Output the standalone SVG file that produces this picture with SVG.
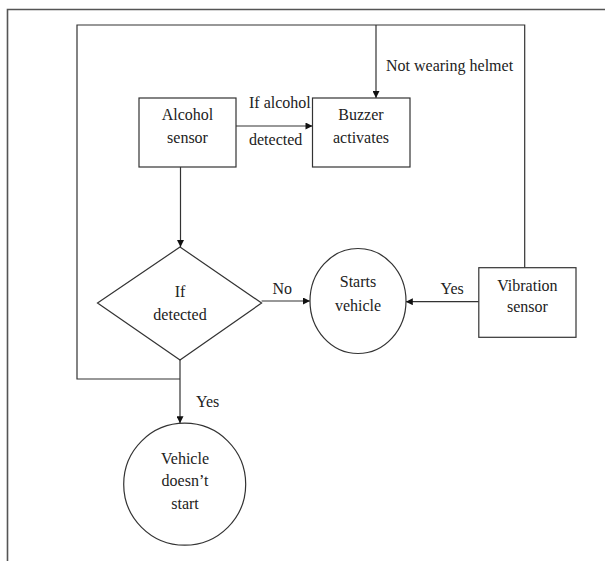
<svg xmlns="http://www.w3.org/2000/svg" width="605" height="561" viewBox="0 0 605 561">
<style>
.box{fill:#fff;stroke:#333;stroke-width:1.2}
.ln{fill:none;stroke:#333;stroke-width:1.2}
.t{font-family:"Liberation Serif","Times New Roman",serif;font-size:16px;fill:#222}
.c{text-anchor:middle}
</style>
<defs>
<marker id="ah" viewBox="0 0 10 10" refX="10" refY="5" markerWidth="8" markerHeight="7" markerUnits="userSpaceOnUse" orient="auto">
<path d="M0,0 L10,5 L0,10 Z" fill="#111"/>
</marker>
</defs>
<rect x="0" y="0" width="605" height="561" fill="#fff"/>
<path d="M7.5,561 V9.5 H605" fill="none" stroke="#555" stroke-width="1.6"/>
<g id="connectors">
<path class="ln" d="M180,379 H77 V25 H524.7 V267.7"/>
<path class="ln" d="M376,25 V98" marker-end="url(#ah)"/>
<path class="ln" d="M236,126 H312.5" marker-end="url(#ah)"/>
<path class="ln" d="M180.5,167 V247" marker-end="url(#ah)"/>
<path class="ln" d="M261.6,301 H310" marker-end="url(#ah)"/>
<path class="ln" d="M478.8,301.7 H405.8" marker-end="url(#ah)"/>
<path class="ln" d="M180,360 V423.3" marker-end="url(#ah)"/>
<text class="t" x="249" y="108">If alcohol</text>
<text class="t" x="249" y="145">detected</text>
<text class="t" x="386" y="71">Not wearing helmet</text>
<text class="t" x="272.5" y="294">No</text>
<text class="t" x="440.5" y="294.3">Yes</text>
<text class="t" x="196" y="407.3">Yes</text>
</g>
<g id="alcohol-sensor">
<rect class="box" x="139" y="98" width="97" height="69"/>
<text class="t c" x="187.5" y="120">Alcohol</text>
<text class="t c" x="187.5" y="142.7">sensor</text>
</g>
<g id="buzzer">
<rect class="box" x="312.5" y="98" width="97.5" height="69"/>
<text class="t c" x="361" y="120">Buzzer</text>
<text class="t c" x="361" y="142.7">activates</text>
</g>
<g id="if-detected">
<polygon class="box" points="180,247 261.6,303 180,360 97.5,303"/>
<text class="t c" x="180" y="297">If</text>
<text class="t c" x="180" y="320">detected</text>
</g>
<g id="starts-vehicle">
<ellipse class="box" cx="358" cy="301" rx="48" ry="52.5"/>
<text class="t c" x="358" y="287.3">Starts</text>
<text class="t c" x="358" y="310.7">vehicle</text>
</g>
<g id="vibration-sensor">
<rect class="box" x="478.8" y="267.7" width="97.2" height="69.6"/>
<text class="t c" x="527.4" y="291">Vibration</text>
<text class="t c" x="527.4" y="312.3">sensor</text>
</g>
<g id="vehicle-doesnt-start">
<circle class="box" cx="184.7" cy="484.2" r="61"/>
<text class="t c" x="185" y="464">Vehicle</text>
<text class="t c" x="185" y="486">doesn’t</text>
<text class="t c" x="185" y="509">start</text>
</g>
</svg>
